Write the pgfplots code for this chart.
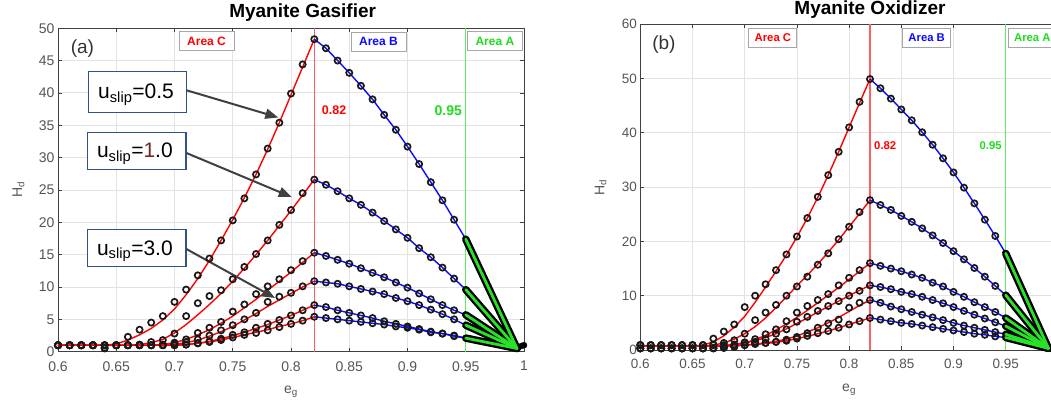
\documentclass[border=0pt]{standalone}
\usepackage{pgfplots}
\pgfplotsset{compat=1.18}
\usepackage{pgfplotstable}
\usepackage{fontspec}
\setmainfont{Liberation Sans}
\usetikzlibrary{arrows.meta}

\definecolor{mred}{RGB}{255,0,0}
\definecolor{mblue}{RGB}{10,10,255}
\definecolor{mgreen}{RGB}{40,225,40}
\definecolor{vred}{RGB}{255,95,95}
\definecolor{vgreen}{RGB}{95,235,95}
\definecolor{txtgreen}{RGB}{30,220,30}
\definecolor{boxblue}{RGB}{47,82,143}
\definecolor{arrowgray}{RGB}{64,64,64}
\definecolor{labgray}{RGB}{85,85,85}

% Gasifier: d = measured H_d, f = fitted curve, six slip velocities
\pgfplotstableread{
x    d1   d2   d3   d4   d5   d6   f1   f2   f3   f4   f5   f6
0.60 1.0  1.0  1.0  1.0  1.0  1.0  1.0  1.0  1.0  1.0  1.0  1.0
0.61 1.0  1.0  1.0  1.0  1.0  1.0  1.0  1.0  1.0  1.0  1.0  1.0
0.62 1.0  1.0  1.0  1.0  1.0  1.0  1.0  1.0  1.0  1.0  1.0  1.0
0.63 1.0  1.0  1.0  1.0  1.0  1.0  1.0  1.0  1.0  1.0  1.0  1.0
0.64 0.6  0.5  1.0  1.0  1.0  1.0  1.0  1.0  1.0  1.0  1.0  1.0
0.65 1.0  1.0  1.0  1.0  1.0  1.0  1.2  1.0  1.0  1.0  1.0  1.0
0.66 2.3  1.0  1.0  1.0  1.0  1.0  1.8  1.0  1.0  1.0  1.0  1.0
0.67 3.4  1.1  1.0  1.0  1.0  1.0  2.6  1.1  1.0  1.0  1.0  1.0
0.68 4.5  1.5  1.0  1.0  1.0  1.0  3.6  1.4  1.0  1.0  1.0  1.0
0.69 5.5  1.8  1.1  1.0  1.0  1.0  4.9  1.9  1.1  1.0  1.0  1.0
0.70 7.7  2.8  1.4  1.2  1.0  1.0  6.6  2.9  1.4  1.1  1.0  1.0
0.71 9.6  5.5  1.9  1.5  1.1  1.1  8.8  4.2  1.9  1.4  1.1  1.1
0.72 11.8 7.5  2.9  1.9  1.3  1.3  11.3 5.7  2.6  1.8  1.3  1.3
0.73 14.4 8.6  3.7  2.5  1.6  1.5  14.1 7.3  3.4  2.4  1.6  1.5
0.74 17.2 9.5  4.6  3.3  2.0  1.8  17.2 9.0  4.4  3.1  2.0  1.8
0.75 20.3 11.2 6.2  4.1  2.6  2.2  20.4 10.9 5.5  3.9  2.5  2.2
0.76 23.7 13.1 7.3  5.0  3.0  2.6  23.8 12.9 6.8  4.9  3.0  2.6
0.77 27.4 15.1 8.9  6.0  3.7  2.9  27.4 15.0 8.1  5.9  3.6  3.0
0.78 31.4 17.2 10.1 7.7  4.3  3.3  31.3 17.2 9.5  7.0  4.2  3.4
0.79 35.4 19.6 11.2 8.5  4.9  3.8  35.4 19.5 10.9 8.0  4.9  3.9
0.80 39.9 21.9 12.6 9.1  5.6  4.3  39.7 21.8 12.3 9.0  5.6  4.3
0.81 44.4 24.5 14.0 10.1 6.4  4.8  44.0 24.2 13.8 10.0 6.4  4.8
0.82 48.3 26.6 15.3 10.9 7.2  5.4  48.3 26.6 15.3 10.9 7.2  5.4
0.83 46.9 25.8 14.8 10.7 6.9  5.2  46.9 25.8 14.8 10.7 6.9  5.2
0.84 45.0 24.8 14.2 10.5 6.4  5.0  45.0 24.8 14.2 10.5 6.4  5.0
0.85 43.1 23.7 13.6 10.1 6.0  4.8  43.1 23.7 13.6 10.1 6.0  4.8
0.86 41.1 22.7 12.9 9.7  5.6  4.6  41.1 22.7 12.9 9.7  5.6  4.6
0.87 39.0 21.5 12.2 9.3  5.2  4.4  39.0 21.5 12.2 9.3  5.2  4.4
0.88 36.6 20.2 11.5 8.9  4.7  4.2  36.6 20.2 11.5 8.9  4.7  4.2
0.89 34.3 18.9 10.7 8.3  4.3  3.9  34.3 18.9 10.7 8.3  4.3  3.9
0.90 31.7 17.6 9.9  7.8  3.9  3.7  31.7 17.6 9.9  7.8  3.9  3.7
0.91 29.0 16.0 9.0  7.2  3.5  3.4  29.0 16.0 9.0  7.2  3.5  3.4
0.92 26.2 14.6 8.1  6.5  3.1  3.0  26.2 14.6 8.1  6.5  3.1  3.0
0.93 23.4 13.0 7.2  5.8  2.8  2.8  23.4 13.0 7.2  5.8  2.8  2.8
0.94 20.4 11.3 6.4  5.0  2.4  2.5  20.4 11.3 6.4  5.0  2.4  2.5
0.95 17.4 9.6  5.7  4.1  2.1  2.1  17.4 9.6  5.7  4.1  2.1  2.1
}\gasifier

% Oxidizer: same layout
\pgfplotstableread{
x    d1   d2   d3   d4   d5   d6   f1   f2   f3   f4   f5   f6
0.60 0.9  0.9  0.9  0.3  0.3  0.3  0.7  0.7  0.7  0.7  0.7  0.7
0.61 0.9  0.9  0.9  0.3  0.3  0.3  0.7  0.7  0.7  0.7  0.7  0.7
0.62 0.9  0.9  0.9  0.3  0.3  0.3  0.7  0.7  0.7  0.7  0.7  0.7
0.63 0.9  0.9  0.9  0.3  0.3  0.3  0.7  0.7  0.7  0.7  0.7  0.7
0.64 0.9  0.9  0.9  0.3  0.3  0.3  0.7  0.7  0.7  0.7  0.7  0.7
0.65 0.9  0.9  0.9  0.3  0.3  0.3  0.7  0.7  0.7  0.7  0.7  0.7
0.66 0.9  0.9  0.9  0.3  0.3  0.3  0.9  0.7  0.7  0.7  0.7  0.7
0.67 2.1  1.0  0.9  0.4  0.3  0.3  1.5  0.9  0.7  0.7  0.7  0.7
0.68 3.4  1.3  0.9  0.6  0.4  0.4  2.6  1.3  0.8  0.8  0.7  0.7
0.69 4.7  1.8  1.0  0.9  0.6  0.6  4.2  2.0  1.0  1.0  0.8  0.8
0.70 7.9  3.0  1.4  1.35 0.9  0.9  6.2  3.0  1.3  1.3  0.9  0.9
0.71 10.0 5.5  2.0  1.5  1.1  1.2  8.8  4.3  1.9  1.7  1.1  1.0
0.72 12.1 6.9  2.9  2.0  1.3  1.3  11.6 5.9  2.7  2.3  1.3  1.2
0.73 14.7 8.3  3.8  3.0  1.5  1.5  14.5 7.8  3.7  3.0  1.6  1.4
0.74 17.6 10.0 5.3  3.8  1.9  1.7  17.5 9.8  4.8  3.9  2.0  1.7
0.75 20.9 11.7 6.9  5.2  2.4  2.1  20.8 11.8 6.0  4.9  2.6  2.1
0.76 24.3 13.5 8.1  6.1  3.1  2.6  24.3 13.8 7.3  5.9  3.3  2.5
0.77 28.2 15.7 9.2  7.2  4.1  3.1  28.1 15.8 8.7  7.0  4.1  3.0
0.78 32.2 17.8 10.3 8.1  4.9  3.5  32.2 18.0 10.1 8.0  5.0  3.5
0.79 36.5 20.4 11.9 9.0  5.6  4.1  36.5 20.3 11.5 9.0  6.0  4.1
0.80 41.0 22.7 13.3 10.0 7.8  4.7  41.0 22.7 13.0 10.0 7.1  4.7
0.81 45.7 25.4 14.7 10.9 8.7  5.3  45.5 25.1 14.5 11.0 8.2  5.3
0.82 49.9 27.6 16.0 11.9 9.2  5.9  49.9 27.6 16.0 11.9 9.2  5.9
0.83 48.2 26.7 15.5 11.6 8.7  5.6  48.2 26.7 15.5 11.6 8.7  5.6
0.84 46.3 25.8 15.0 11.2 8.0  5.3  46.3 25.8 15.0 11.2 8.0  5.3
0.85 44.3 24.7 14.5 10.7 7.5  5.0  44.3 24.7 14.5 10.7 7.5  5.0
0.86 42.3 23.6 13.9 10.3 7.0  4.8  42.3 23.6 13.9 10.3 7.0  4.8
0.87 40.1 22.4 13.3 9.8  6.5  4.5  40.1 22.4 13.3 9.8  6.5  4.5
0.88 37.8 21.1 12.4 9.2  6.0  4.2  37.8 21.1 12.4 9.2  6.0  4.2
0.89 35.3 19.7 11.7 8.6  5.5  3.9  35.3 19.7 11.7 8.6  5.5  3.9
0.90 32.7 18.2 10.7 7.9  5.0  3.6  32.7 18.2 10.7 7.9  5.0  3.6
0.91 29.9 16.7 9.8  7.2  4.5  3.3  29.9 16.7 9.8  7.2  4.5  3.3
0.92 27.0 15.1 8.8  6.5  4.1  3.0  27.0 15.1 8.8  6.5  4.1  3.0
0.93 24.0 13.5 7.9  5.8  3.7  2.8  24.0 13.5 7.9  5.8  3.7  2.8
0.94 21.0 11.8 7.0  5.1  3.3  2.5  21.0 11.8 7.0  5.1  3.3  2.5
0.95 17.8 10.1 5.9  4.4  2.9  2.3  17.8 10.1 5.9  4.4  2.9  2.3
}\oxidizer

\pgfplotsset{
  panel/.style={
    scale only axis, anchor=south west, clip=false,
    xmin=0.6, xmax=1,
    xtick={0.6,0.65,0.7,0.75,0.8,0.85,0.9,0.95,1},
    tick align=inside, major tick length=4pt,
    axis line style={draw=black!75, line width=0.6pt},
    tick style={draw=black!75, line width=0.6pt},
    grid=major, major grid style={draw=black!11, line width=0.8pt},
    ticklabel style={text=labgray},
    xticklabel style={yshift=-6pt},
    xlabel={e\textsubscript{g}}, ylabel={H\textsubscript{d}},
    label style={text=labgray, font=\fontsize{14}{14}\selectfont},
  },
  fitC/.style={mred, line width=1.4pt, restrict x to domain=0.595:0.8205},
  fitB/.style={mblue, line width=1.4pt, restrict x to domain=0.8195:0.9505},
  pts/.style={only marks, mark=o, mark size=3.1pt,
    mark options={draw=black!90, line width=1.7pt},
    restrict x to domain=0.595:0.945},
  tailK/.style={black, line width=7.5pt, line cap=round},
  tailG/.style={mgreen, line width=2.8pt, line cap=round},
}
\tikzset{
  arealab/.style={draw=black!35, fill=white, line width=0.8pt,
    inner sep=0pt, font=\bfseries\fontsize{12}{12}\selectfont},
  callout/.style={boxblue, line width=1.2pt, fill=white},
  pointer/.style={arrowgray, line width=2pt, -{Triangle[length=13pt, width=10pt]}},
}

\begin{document}
\begin{tikzpicture}
\useasboundingbox (0pt,0pt) rectangle (1051pt,403pt);
\clip (0pt,0pt) rectangle (1051pt,403pt);

% ---------------- (a) gasifier ----------------
\begin{axis}[panel,
  at={(58pt,51.3pt)}, width=466pt, height=323.5pt,
  xticklabels={0.6,0.65,0.7,0.75,0.8,0.85,0.9,0.95,1},
  ymin=0, ymax=50, ytick={0,5,...,50},
  yticklabels={0,5,10,15,20,25,30,35,40,45,50},
  ticklabel style={font=\fontsize{14}{14}\selectfont},
  title={Myanite Gasifier},
  title style={at={(axis description cs:0.525,1)}, anchor=base, yshift=5pt,
    font=\bfseries\fontsize{19}{19}\selectfont},
  xlabel style={at={(axis description cs:0.5,-0.13)}, anchor=base},
  ylabel style={at={(axis description cs:-0.077,0.5)}, anchor=base},
]
\addplot[vred, line width=1.1pt] coordinates {(0.82,0) (0.82,50)};
\addplot[vgreen, line width=1.1pt] coordinates {(0.95,0) (0.95,50)};

\foreach \c in {1,...,6}{
  \addplot[fitC] table[x=x, y=f\c] {\gasifier};
  \addplot[fitB] table[x=x, y=f\c] {\gasifier};
}
\foreach \c in {1,...,6}{
  \addplot[pts] table[x=x, y=d\c] {\gasifier};
}

% Area A tails towards e_g = 1
\addplot[tailK] coordinates {(0.95,17.4) (0.994,0.5)};
\addplot[tailK] coordinates {(0.95,9.6) (0.994,0.5)};
\addplot[tailK] coordinates {(0.95,5.7) (0.994,0.5)};
\addplot[tailK] coordinates {(0.95,4.1) (0.994,0.5)};
\addplot[tailK] coordinates {(0.95,2.1) (0.994,0.5)};
\addplot[only marks, mark=*, mark size=3pt, black] coordinates {(0.998,0.9) (1.0,1.0)};
\addplot[tailG] coordinates {(0.95,17.4) (0.994,0.5)};
\addplot[tailG] coordinates {(0.95,9.6) (0.994,0.5)};
\addplot[tailG] coordinates {(0.95,5.7) (0.994,0.5)};
\addplot[tailG] coordinates {(0.95,4.1) (0.994,0.5)};
\addplot[tailG] coordinates {(0.95,2.1) (0.994,0.5)};

\node[arealab, minimum width=55pt, minimum height=19pt, text=mred] at (axis cs:0.7275,48.0) {Area C};
\node[arealab, minimum width=55pt, minimum height=19pt, text=mblue] at (axis cs:0.8751,47.9) {Area B};
\node[arealab, minimum width=55pt, minimum height=19pt, text=txtgreen] at (axis cs:0.975,48.0) {Area A};

\node[font=\bfseries\fontsize{12.5}{12.5}\selectfont, text=mred] at (axis cs:0.837,37.3) {0.82};
\node[font=\bfseries\fontsize{14}{14}\selectfont, text=txtgreen] at (axis cs:0.935,37.3) {0.95};
\node[font=\fontsize{19}{19}\selectfont, text=black!80] at (axis cs:0.621,46.9) {(a)};

% slip-velocity call-outs
\draw[callout] (axis cs:0.626,43.3) rectangle (axis cs:0.7104,37.0);
\draw[callout] (axis cs:0.6252,33.9) rectangle (axis cs:0.7099,28.2);
\draw[callout] (axis cs:0.6252,18.9) rectangle (axis cs:0.7099,13.2);
\node[anchor=base, font=\fontsize{21}{21}\selectfont] at (axis cs:0.667,39.1) {u\textsubscript{slip}=0.5};
\node[anchor=base, font=\fontsize{21}{21}\selectfont] at (axis cs:0.666,30.0) {u\textsubscript{slip}={\color[RGB]{110,40,40}1}.0};
\node[anchor=base, font=\fontsize{21}{21}\selectfont] at (axis cs:0.666,14.9) {u\textsubscript{slip}=3.0};
\draw[pointer] (axis cs:0.7104,40.4) -- (axis cs:0.7891,36.2);
\draw[pointer] (axis cs:0.7104,30.7) -- (axis cs:0.8006,23.9);
\draw[pointer] (axis cs:0.7099,15.9) -- (axis cs:0.7863,8.3);
\end{axis}

% ---------------- (b) oxidizer ----------------
\begin{axis}[panel,
  at={(640.3pt,53pt)}, width=417.6pt, height=325.8pt,
  xticklabels={0.6,0.65,0.7,0.75,0.8,0.85,0.9,0.95,{}},
  ymin=0, ymax=60, ytick={0,10,...,60},
  yticklabels={0,10,20,30,40,50,60},
  ticklabel style={font=\fontsize{13.5}{13.5}\selectfont},
  title={Myanite Oxidizer},
  title style={at={(axis description cs:0.55,1)}, anchor=base, yshift=3.5pt,
    font=\bfseries\fontsize{19}{19}\selectfont},
  xlabel style={at={(axis description cs:0.5,-0.126)}, anchor=base},
  ylabel style={at={(axis description cs:-0.0862,0.5)}, anchor=base},
]
\addplot[vred, line width=1.1pt] coordinates {(0.82,0) (0.82,60)};
\addplot[vgreen, line width=1.1pt] coordinates {(0.95,0) (0.95,60)};

\foreach \c in {1,...,6}{
  \addplot[fitC] table[x=x, y=f\c] {\oxidizer};
  \addplot[fitB] table[x=x, y=f\c] {\oxidizer};
}
\foreach \c in {1,...,6}{
  \addplot[pts] table[x=x, y=d\c] {\oxidizer};
}

\addplot[tailK] coordinates {(0.95,17.8) (0.991,0.3)};
\addplot[tailK] coordinates {(0.95,10.1) (0.991,0.3)};
\addplot[tailK] coordinates {(0.95,5.9) (0.991,0.3)};
\addplot[tailK] coordinates {(0.95,4.4) (0.991,0.3)};
\addplot[tailK] coordinates {(0.95,2.9) (0.991,0.3)};
\addplot[tailK] coordinates {(0.95,2.3) (0.991,0.3)};
\addplot[tailG] coordinates {(0.95,17.8) (0.991,0.3)};
\addplot[tailG] coordinates {(0.95,10.1) (0.991,0.3)};
\addplot[tailG] coordinates {(0.95,5.9) (0.991,0.3)};
\addplot[tailG] coordinates {(0.95,4.4) (0.991,0.3)};
\addplot[tailG] coordinates {(0.95,2.9) (0.991,0.3)};
\addplot[tailG] coordinates {(0.95,2.3) (0.991,0.3)};

\node[arealab, minimum width=48pt, minimum height=19pt, text=mred, font=\bfseries\fontsize{11.3}{11.3}\selectfont] at (axis cs:0.727,57.5) {Area C};
\node[arealab, minimum width=48pt, minimum height=19pt, text=mblue, font=\bfseries\fontsize{11.3}{11.3}\selectfont] at (axis cs:0.8743,57.5) {Area B};
\node[arealab, minimum width=48pt, minimum height=19pt, text=txtgreen, font=\bfseries\fontsize{11.3}{11.3}\selectfont] at (axis cs:0.9755,57.5) {Area A};

\node[font=\bfseries\fontsize{11.3}{11.3}\selectfont, text=mred] at (axis cs:0.8346,37.6) {0.82};
\node[font=\bfseries\fontsize{11.3}{11.3}\selectfont, text=txtgreen] at (axis cs:0.9356,37.6) {0.95};
\node[font=\fontsize{19}{19}\selectfont, text=black!80] at (axis cs:0.6226,56.3) {(b)};
\end{axis}
\end{tikzpicture}
\end{document}
